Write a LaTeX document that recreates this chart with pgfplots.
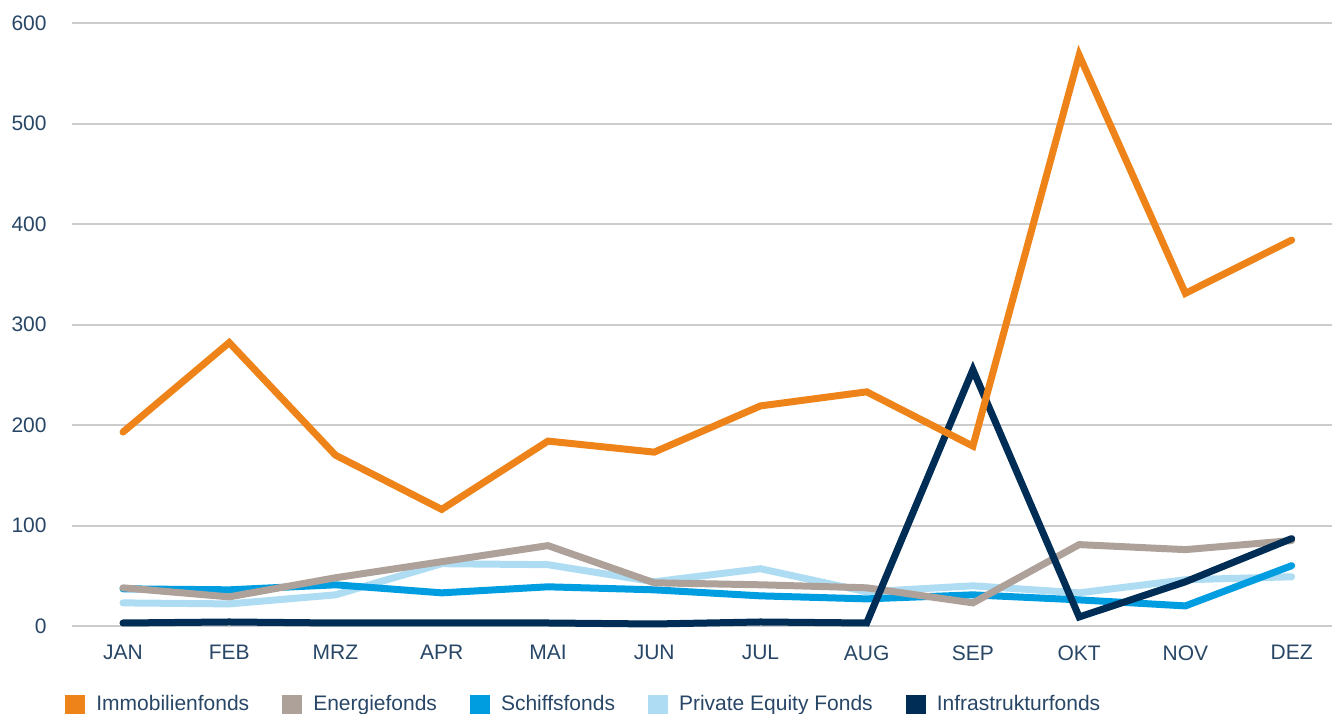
\documentclass[border=0pt]{standalone}
\usepackage{fontspec}
\setmainfont{Liberation Sans}
\usepackage{pgfplots}
\pgfplotsset{compat=1.18}

\definecolor{cImmo}{RGB}{238,132,25}
\definecolor{cEnergie}{RGB}{174,161,154}
\definecolor{cSchiff}{RGB}{0,158,224}
\definecolor{cPE}{RGB}{174,221,243}
\definecolor{cInfra}{RGB}{0,45,85}
\definecolor{cText}{RGB}{40,70,102}
\definecolor{cGrid}{RGB}{204,204,204}

\begin{document}
\begin{tikzpicture}[x=0.5pt,y=0.5pt]
% crop to the reference frame (legend is cut at the bottom)
\path[use as bounding box] (-72,-87) rectangle (1260,626);
\begin{axis}[
  at={(0,0)}, anchor=south west,
  scale only axis,
  width=630pt, height=301.5pt,
  xmin=-0.48, xmax=11.38,
  ymin=0, ymax=600,
  axis line style={draw=none},
  tick style={draw=none},
  ytick={0,100,...,600},
  ymajorgrids,
  grid style={cGrid, line width=1pt},
  xtick={0,...,11},
  xticklabels={JAN,FEB,MRZ,APR,MAI,JUN,JUL,AUG,SEP,OKT,NOV,DEZ},
  xticklabel style={anchor=north, inner sep=0pt, yshift=-9.5pt},
  yticklabel style={anchor=east, inner sep=0pt, xshift=-12.5pt},
  ticklabel style={font=\fontsize{10.5}{12}\selectfont, text=cText},
  /pgf/number format/assume math mode=true,
  clip=false,
  every axis plot/.append style={line width=3.5pt, line cap=round, line join=miter, miter limit=4},
  legend columns=-1,
  legend style={at={(-0.0056,-0.108)}, anchor=north west, draw=none, fill=none,
    inner sep=0pt, font=\fontsize{10.5}{12}\selectfont, text=cText,
    /tikz/every odd column/.append style={column sep=3.5pt},
    /tikz/every even column/.append style={column sep=14.5pt}},
  legend image code/.code={\fill[#1, draw=none] (0pt,-5pt) rectangle (10pt,5pt);},
  legend cell align=left,
]
\addplot[cPE, forget plot] coordinates {
  (0,23) (1,22) (2,31) (3,62) (4,61) (5,44) (6,57) (7,34) (8,40) (9,33) (10,46) (11,49)
};
\addplot[cSchiff, forget plot] coordinates {
  (0,37) (1,36) (2,41) (3,33) (4,39) (5,36) (6,30) (7,27) (8,31) (9,26) (10,20) (11,60)
};
\addplot[cEnergie, forget plot] coordinates {
  (0,38) (1,29) (2,48) (3,64) (4,80) (5,43) (6,41) (7,38) (8,23) (9,81) (10,76) (11,85)
};
\addplot[cInfra, forget plot] coordinates {
  (0,3) (1,4) (2,3) (3,3) (4,3) (5,2) (6,4) (7,3) (8,255) (9,9) (10,44) (11,87)
};
\addplot[cImmo, forget plot] coordinates {
  (0,193) (1,282) (2,170) (3,116) (4,184) (5,173) (6,219) (7,233) (8,179) (9,568) (10,331) (11,384)
};
% legend entries in the reference order
\addlegendimage{cImmo}\addlegendentry{Immobilienfonds}
\addlegendimage{cEnergie}\addlegendentry{Energiefonds}
\addlegendimage{cSchiff}\addlegendentry{Schiffsfonds}
\addlegendimage{cPE}\addlegendentry{Private Equity Fonds}
\addlegendimage{cInfra}\addlegendentry{Infrastrukturfonds}
\end{axis}
\end{tikzpicture}
\end{document}
